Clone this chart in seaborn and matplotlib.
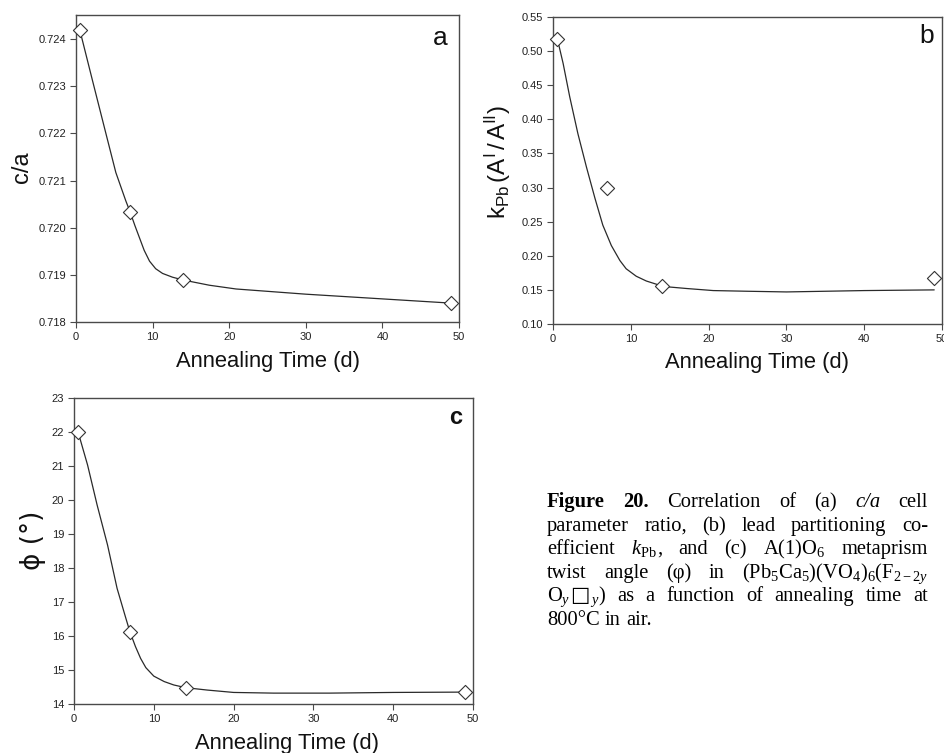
import matplotlib
matplotlib.use("Agg")
import matplotlib.pyplot as plt
import matplotlib.ticker as mticker
import numpy as np
import pandas as pd
import seaborn as sns

# ---------------- data ----------------
time_days = [0.5, 7, 14, 49]
ca_ratio = [0.72420, 0.72034, 0.71890, 0.71840]
k_pb = [0.518, 0.300, 0.155, 0.168]
phi_deg = [22.00, 16.13, 14.47, 14.36]

# fitted trend curves
fit_a_t = [0.5, 2.2, 3.9, 5.2, 6.5, 7.05, 7.7, 8.3, 8.9, 9.6, 10.4, 11.3, 12.6, 14.0,
           17.4, 20.9, 30, 40, 49]
fit_a_v = [0.72419, 0.72309, 0.72200, 0.72117, 0.72057, 0.72034, 0.72004, 0.71978,
           0.71952, 0.71929, 0.71913, 0.71903, 0.71895, 0.71889, 0.71878, 0.71870,
           0.71859, 0.71849, 0.71840]
fit_b_t = [0.6, 1.3, 2.15, 3.2, 4.3, 5.4, 6.4, 7.5, 8.6, 9.4, 10.7, 12.0, 14.2, 17.2,
           20.6, 25, 30, 35, 40, 49]
fit_b_v = [0.516, 0.482, 0.433, 0.379, 0.330, 0.284, 0.245, 0.215, 0.193, 0.181,
           0.170, 0.163, 0.155, 0.152, 0.149, 0.148, 0.147, 0.148, 0.149, 0.150]
fit_c_t = [0.5, 1.7, 2.9, 4.2, 5.4, 6.5, 7.0, 7.7, 8.35, 9.0, 10.0, 11.3, 12.5, 14.0,
           16.7, 20.0, 25, 32, 40, 49]
fit_c_v = [22.01, 21.03, 19.85, 18.68, 17.40, 16.52, 16.13, 15.69, 15.34, 15.07,
           14.82, 14.66, 14.56, 14.48, 14.41, 14.34, 14.32, 14.32, 14.34, 14.35]

x_ticks = [0, 10, 20, 30, 40, 50]
a_ticks = [0.718, 0.719, 0.720, 0.721, 0.722, 0.723, 0.724]
b_ticks = [0.10, 0.15, 0.20, 0.25, 0.30, 0.35, 0.40, 0.45, 0.50, 0.55]
c_ticks = [14, 15, 16, 17, 18, 19, 20, 21, 22, 23]

x_label = "Annealing Time (d)"
panel_letters = ["a", "b", "c"]

# ---------------- style ----------------
sns.set_theme(style="ticks")
plt.rcParams["font.family"] = ["Liberation Sans", "DejaVu Sans"]
plt.rcParams["mathtext.fontset"] = "custom"
plt.rcParams["mathtext.rm"] = "Liberation Serif"
plt.rcParams["mathtext.it"] = "Liberation Serif:italic"
plt.rcParams["mathtext.bf"] = "Liberation Serif:bold"
plt.rcParams["mathtext.fallback"] = "stix"

W, H = 944, 753
fig = plt.figure(figsize=(W / 100, H / 100), dpi=100)
fig.patch.set_facecolor("white")


def axes_px(left, right, top, bottom):
    return fig.add_axes([left / W, (H - bottom) / H, (right - left) / W, (bottom - top) / H])


ax_a = axes_px(76, 459, 15, 322)
ax_b = axes_px(553, 942, 17, 324)
ax_c = axes_px(74, 473, 398, 704)

line_col = "#2a2a2a"
spine_col = "#4a4a4a"


def draw_panel(ax, fx, fy, px, py, ylim, yticks, fmt):
    sns.lineplot(x=fx, y=fy, ax=ax, color=line_col, linewidth=0.9, sort=False, zorder=2)
    sns.scatterplot(x=px, y=py, ax=ax, marker="D", s=52, facecolor="white",
                    edgecolor="#333333", linewidth=0.8, zorder=3, clip_on=False)
    ax.set_xlim(0, 50)
    ax.set_ylim(*ylim)
    ax.set_xticks(x_ticks)
    ax.set_yticks(yticks)
    ax.yaxis.set_major_formatter(mticker.FormatStrFormatter(fmt))
    ax.tick_params(axis="both", which="major", direction="out", length=4, width=0.8,
                   color=spine_col, labelsize=8, labelcolor="#222222", pad=3)
    for sp in ax.spines.values():
        sp.set_visible(True)
        sp.set_color(spine_col)
        sp.set_linewidth(1.0)
    ax.set_facecolor("white")
    ax.grid(False)


draw_panel(ax_a, fit_a_t, fit_a_v, time_days, ca_ratio, (0.718, 0.72451), a_ticks, "%.3f")
draw_panel(ax_b, fit_b_t, fit_b_v, time_days, k_pb, (0.10, 0.55), b_ticks, "%.2f")
draw_panel(ax_c, fit_c_t, fit_c_v, time_days, phi_deg, (14, 23), c_ticks, "%d")

# axis labels
ax_a.set_xlabel(x_label, fontsize=15.8, va="center", color="#111111")
ax_a.xaxis.set_label_coords(0.5, -0.130)
ax_a.set_ylabel("c/a", fontsize=17, va="center", color="#111111")
ax_a.yaxis.set_label_coords(-0.141, 0.505)

ax_b.set_xlabel(x_label, fontsize=15.8, va="center", color="#111111")
ax_b.xaxis.set_label_coords(0.525, -0.124)
ax_b.set_ylabel(r"$\mathregular{k_{Pb}\,(A^{I}\,/\,A^{II})}$", fontsize=17.5, va="center", color="#111111")
ax_b.yaxis.set_label_coords(-0.141, 0.528)

ax_c.set_xlabel(x_label, fontsize=15.8, va="center", color="#111111")
ax_c.xaxis.set_label_coords(0.533, -0.128)
ax_c.set_ylabel("\u03d5 (\u00b0)", fontsize=19, va="center", color="#111111",
                family=["DejaVu Sans"])
ax_c.yaxis.set_label_coords(-0.104, 0.536)

# panel letters
ax_a.text(0.950, 0.924, panel_letters[0], transform=ax_a.transAxes, fontsize=19,
          ha="center", va="center", color="#111111")
ax_b.text(0.961, 0.938, panel_letters[1], transform=ax_b.transAxes, fontsize=19,
          ha="center", va="center", color="#111111")
ax_c.text(0.957, 0.935, panel_letters[2], transform=ax_c.transAxes, fontsize=17,
          ha="center", va="center", color="#111111", fontweight="bold")

# ---------------- caption (justified) ----------------
renderer = fig.canvas.get_renderer()
CAP_SIZE = 14.8
CAP = dict(family=["Liberation Serif", "DejaVu Serif"], fontsize=CAP_SIZE, color="black")
BOLD = dict(fontweight="bold")
ITAL = dict(style="italic")


def seg(text, **kw):
    return (text, kw)


caption_lines = [
    [[seg("Figure", **BOLD)], [seg("20.", **BOLD)], [seg("Correlation")], [seg("of")],
     [seg("(a)")], [seg("c/a", **ITAL)], [seg("cell")]],
    [[seg("parameter")], [seg("ratio,")], [seg("(b)")], [seg("lead")],
     [seg("partitioning")], [seg("co-")]],
    [[seg("efficient")], [seg(r"$k_{\mathrm{Pb}}$"), seg(",")], [seg("and")], [seg("(c)")],
     [seg(r"A(1)O$_{6}$")], [seg("metaprism")]],
    [[seg("twist")], [seg("angle")], [seg("(\u03c6)")], [seg("in")],
     [seg(r"(Pb$_{5}$Ca$_{5}$)(VO$_{4}$)$_{6}$(F$_{2-2y}$")]],
    [[seg(r"O$_{y}$"), seg("\u25a1", family=["STIXGeneral", "DejaVu Sans"], fontweight="bold"),
      seg(r"$_{y}$)")],
     [seg("as")], [seg("a")], [seg("function")], [seg("of")], [seg("annealing")],
     [seg("time")], [seg("at")]],
    [[seg("800\u00b0C")], [seg("in")], [seg("air.")]],
]
justify_flags = [True, True, True, True, True, False]
baselines = [507, 531, 554, 578, 601, 625]
X0, X1 = 547, 928

for words, yb, just in zip(caption_lines, baselines, justify_flags):
    placed = []
    total = 0.0
    for w in words:
        items = []
        wsum = 0.0
        for txt, kw in w:
            props = dict(CAP)
            props.update(kw)
            t = fig.text(0, 0, txt, ha="left", va="baseline", **props)
            wd = t.get_window_extent(renderer).width
            items.append((t, wd))
            wsum += wd
        placed.append((items, wsum))
        total += wsum
    if just and len(words) > 1:
        gap = (X1 - X0 - total) / (len(words) - 1)
    else:
        gap = CAP_SIZE * 100 / 72 * 0.25
    x = X0
    for items, wsum in placed:
        for t, wd in items:
            t.set_position((x / W, 1 - yb / H))
            x += wd
        x += gap

fig.savefig("out.png", dpi=100, facecolor="white")
